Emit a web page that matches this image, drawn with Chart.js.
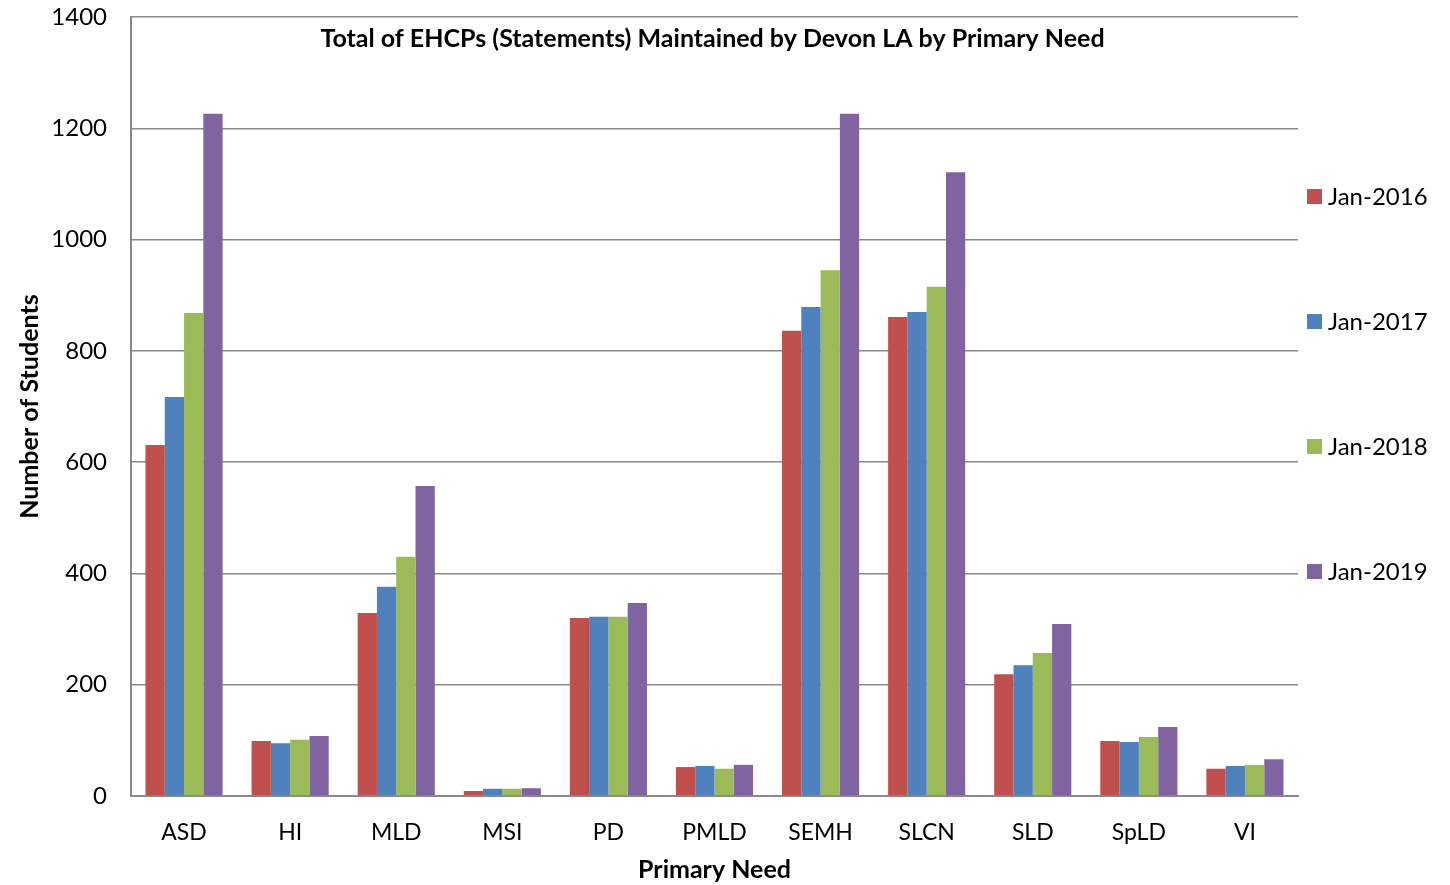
<!DOCTYPE html>
<html>
<head>
<meta charset="utf-8">
<script src="https://cdn.jsdelivr.net/npm/chart.js@4/dist/chart.umd.min.js"></script>
<style>
    html, body { margin: 0; padding: 0; background: #fff; }
    #wrap { position: relative; width: 1450px; height: 885px; }
</style>
</head>
<body>
<div id="wrap"><canvas id="chart"></canvas></div>
<script>
// Values
const categories = ['ASD', 'HI', 'MLD', 'MSI', 'PD', 'PMLD', 'SEMH', 'SLCN', 'SLD', 'SpLD', 'VI'];
const seriesNames = ['Jan-2016', 'Jan-2017', 'Jan-2018', 'Jan-2019'];
const jan2016 = [631, 99, 329, 9, 320, 52, 836, 861, 219, 99, 49];
const jan2017 = [717, 95, 376, 13, 322, 54, 879, 870, 235, 97, 54];
const jan2018 = [868, 101, 430, 13, 322, 49, 945, 915, 257, 106, 56];
const jan2019 = [1226, 108, 557, 14, 347, 56, 1226, 1121, 309, 124, 66];
const colors = ['#C0504D', '#4F81BD', '#9BBB59', '#8064A2'];

const FONT = 'Lato, "Noto Sans", sans-serif';
const GRID = '#8a8a8a';

// title sits inside the plot area, legend is spread down the right side
const insideTitle = {
    id: 'insideTitle',
    afterDraw(chart) {
        const { ctx, chartArea } = chart;
        ctx.save();
        ctx.font = 'bold 25px ' + FONT;
        ctx.fillStyle = '#000';
        ctx.textAlign = 'center';
        ctx.textBaseline = 'middle';
        ctx.fillText('Total of EHCPs (Statements) Maintained by Devon LA by Primary Need',
            (chartArea.left + chartArea.right) / 2 - 2, chartArea.top + 22);
        ctx.restore();
    }
};

const spreadLegend = {
    id: 'spreadLegend',
    afterDraw(chart) {
        const { ctx, chartArea } = chart;
        ctx.save();
        ctx.font = '24px ' + FONT;
        ctx.textBaseline = 'middle';
        ctx.textAlign = 'left';
        chart.data.datasets.forEach((ds, i) => {
            const y = chartArea.top + 179 + i * 125;
            const x = chartArea.right + 9;
            ctx.fillStyle = ds.backgroundColor;
            ctx.fillRect(x, y - 7, 15, 15);
            ctx.fillStyle = '#000';
            ctx.fillText(ds.label, x + 21, y + 1);
        });
        ctx.restore();
    }
};

const seriesValues = [jan2016, jan2017, jan2018, jan2019];

new Chart(document.getElementById('chart'), {
    type: 'bar',
    data: {
        labels: categories,
        datasets: seriesValues.map((vals, i) => ({
            label: seriesNames[i],
            data: vals,
            backgroundColor: colors[i],
            borderWidth: 0,
            categoryPercentage: 0.727,
            barPercentage: 1.0,
        })),
    },
    options: {
        responsive: true,
        maintainAspectRatio: false,
        animation: false,
        layout: { padding: { top: 17, right: 152, left: 0, bottom: 0 } },
        plugins: {
            legend: { display: false },
            title: { display: false },
            tooltip: { enabled: false },
        },
        scales: {
            x: {
                grid: { display: false, drawTicks: false },
                border: { color: GRID, width: 2 },
                ticks: { color: '#000', font: { family: FONT, size: 23 }, padding: 23 },
                title: {
                    display: true, text: 'Primary Need', color: '#000',
                    font: { family: FONT, size: 25, weight: 'bold' },
                    padding: { top: 0, bottom: 0 },
                },
                afterFit(scale) { scale.height = 89; scale.paddingLeft = 0; scale.paddingRight = 0; },
            },
            y: {
                min: 0, max: 1400,
                ticks: {
                    stepSize: 200, color: '#000', font: { family: FONT, size: 24 }, padding: 24,
                    callback: v => String(v),
                },
                grid: { color: GRID, lineWidth: 1.5, drawTicks: false },
                border: { color: GRID, width: 2 },
                title: {
                    display: true, text: 'Number of Students', color: '#000',
                    font: { family: FONT, size: 25, weight: 'bold' },
                    padding: { top: 15, bottom: 0 },
                },
                afterFit(scale) { scale.width = 131; scale.paddingTop = 0; scale.paddingBottom = 0; },
            },
        },
    },
    plugins: [insideTitle, spreadLegend],
});
</script>
</body>
</html>
